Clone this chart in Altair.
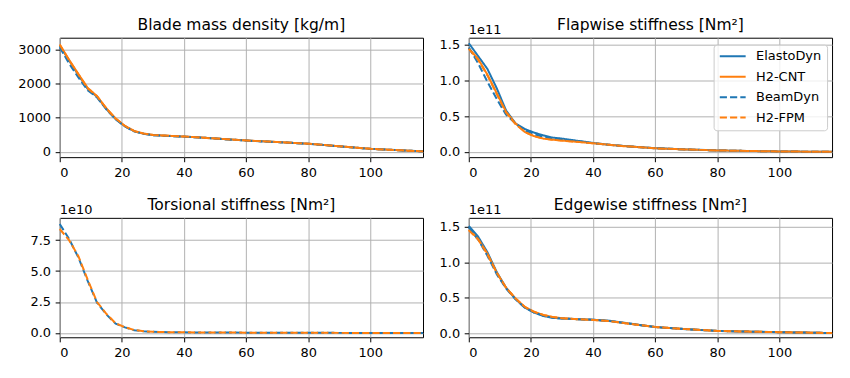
import altair as alt
import pandas as pd

FONT = "DejaVu Sans"
BLUE = "#1f77b4"
ORANGE = "#ff7f0e"
W, H = 365, 120

# spanwise stations [m]
span = [0, 3, 6, 9, 12, 15, 18, 21, 24, 27, 30, 35, 40, 45, 50, 60, 70, 80, 90, 100, 110, 117]
models = ["ElastoDyn", "H2-CNT", "BeamDyn", "H2-FPM"]
solid_models = ["ElastoDyn", "H2-CNT"]

# Blade mass density [kg/m]
mass_elastodyn = [3130, 2690, 2260, 1850, 1620, 1260, 960, 750, 600, 530, 490, 465, 445, 420, 390, 330, 285, 235, 160, 85, 40, 10]
mass_h2cnt = [3160, 2710, 2290, 1880, 1640, 1280, 980, 760, 610, 535, 495, 470, 448, 423, 392, 332, 287, 237, 162, 86, 41, 10]
mass_beamdyn = [3080, 2600, 2190, 1810, 1600, 1250, 955, 745, 598, 528, 488, 462, 442, 418, 388, 328, 283, 233, 158, 84, 39, 10]
mass_h2fpm = [3150, 2700, 2280, 1870, 1635, 1275, 975, 758, 608, 533, 493, 468, 446, 421, 390, 331, 286, 236, 161, 85, 40, 10]

# Flapwise stiffness [1e11 Nm^2]
flap_elastodyn = [1.52, 1.34, 1.16, 0.89, 0.58, 0.40, 0.32, 0.27, 0.23, 0.20, 0.185, 0.155, 0.125, 0.10, 0.082, 0.052, 0.034, 0.02, 0.012, 0.006, 0.002, 0.0]
flap_h2cnt = [1.45, 1.30, 1.08, 0.82, 0.56, 0.40, 0.28, 0.22, 0.185, 0.17, 0.158, 0.14, 0.12, 0.10, 0.08, 0.05, 0.033, 0.02, 0.012, 0.006, 0.002, 0.0]
flap_beamdyn = [1.46, 1.24, 0.98, 0.74, 0.52, 0.40, 0.30, 0.25, 0.21, 0.19, 0.175, 0.15, 0.122, 0.10, 0.081, 0.051, 0.033, 0.02, 0.012, 0.006, 0.002, 0.0]
flap_h2fpm = [1.44, 1.29, 1.07, 0.81, 0.55, 0.39, 0.28, 0.22, 0.185, 0.17, 0.157, 0.14, 0.12, 0.10, 0.08, 0.05, 0.033, 0.02, 0.012, 0.006, 0.002, 0.0]

# Torsional stiffness [1e10 Nm^2]
tors_beamdyn = [8.8, 7.6, 6.1, 4.2, 2.45, 1.5, 0.75, 0.45, 0.22, 0.13, 0.09, 0.065, 0.05, 0.04, 0.035, 0.025, 0.016, 0.01, 0.006, 0.003, 0.001, 0.0]
tors_h2fpm = [8.4, 7.5, 6.2, 4.3, 2.5, 1.55, 0.78, 0.46, 0.24, 0.13, 0.09, 0.065, 0.05, 0.04, 0.035, 0.025, 0.016, 0.01, 0.006, 0.003, 0.001, 0.0]

# Edgewise stiffness [1e11 Nm^2]
edge_elastodyn = [1.51, 1.36, 1.14, 0.86, 0.64, 0.48, 0.36, 0.29, 0.24, 0.215, 0.205, 0.195, 0.188, 0.175, 0.145, 0.085, 0.055, 0.03, 0.02, 0.012, 0.005, 0.0]
edge_h2cnt = [1.46, 1.33, 1.12, 0.85, 0.64, 0.49, 0.37, 0.30, 0.255, 0.225, 0.21, 0.195, 0.185, 0.17, 0.14, 0.085, 0.055, 0.03, 0.02, 0.012, 0.005, 0.0]
edge_beamdyn = [1.49, 1.32, 1.09, 0.83, 0.63, 0.48, 0.36, 0.29, 0.245, 0.215, 0.205, 0.195, 0.187, 0.172, 0.143, 0.084, 0.054, 0.03, 0.02, 0.012, 0.005, 0.0]
edge_h2fpm = [1.45, 1.32, 1.11, 0.85, 0.64, 0.49, 0.37, 0.30, 0.255, 0.225, 0.21, 0.195, 0.185, 0.17, 0.14, 0.085, 0.055, 0.03, 0.02, 0.012, 0.005, 0.0]

x_ticks = [0, 20, 40, 60, 80, 100]


def panel(title, series, scale, dom, ticks, fmt, exp_text, legend=False):
    rows = []
    for m, vals in series.items():
        for xv, yv in zip(span, vals):
            rows.append({"x": xv, "y": yv * scale, "model": m,
                         "style": "solid" if m in solid_models else "dashed"})
    df = pd.DataFrame(rows)

    if legend:
        leg = alt.Legend(title=None, orient="none", legendX=246, legendY=7,
                         symbolType="stroke", symbolSize=676, symbolStrokeWidth=2,
                         clipHeight=13, rowPadding=6.5, padding=5.2, labelOffset=9.4,
                         labelFont=FONT, labelFontSize=13, labelColor="black",
                         strokeColor="#cccccc", fillColor="rgba(255,255,255,0.8)",
                         cornerRadius=3)
    else:
        leg = None

    enc = dict(
        x=alt.X("x:Q", scale=alt.Scale(domain=[0, 117], nice=False, zero=False),
                axis=alt.Axis(values=x_ticks, title=None, format="d")),
        y=alt.Y("y:Q", scale=alt.Scale(domain=dom, nice=False, zero=False),
                axis=alt.Axis(values=ticks, title=None, labelExpr=fmt)),
        color=alt.Color("model:N", scale=alt.Scale(domain=models, range=[BLUE, ORANGE, BLUE, ORANGE]),
                        legend=leg),
        strokeDash=alt.StrokeDash("model:N",
                                  scale=alt.Scale(domain=models,
                                                  range=[[1, 0], [1, 0], [7.2, 3.1], [7.2, 3.1]]),
                                  legend=leg),
    )
    base = alt.Chart(df).encode(**enc)
    solid = base.transform_filter(alt.datum.style == "solid").mark_line(strokeWidth=2)
    dashed = base.transform_filter(alt.datum.style == "dashed").mark_line(strokeWidth=2)

    ttl = alt.Chart(pd.DataFrame({"t": [title]})).mark_text(
        align="center", baseline="alphabetic", font=FONT, fontSize=15.6, color="black"
    ).encode(text="t:N", x=alt.value(W / 2), y=alt.value(-8))
    layers = [solid, dashed, ttl]
    if exp_text:
        ex = alt.Chart(pd.DataFrame({"t": [exp_text]})).mark_text(
            align="left", baseline="alphabetic", font=FONT, fontSize=13, color="black"
        ).encode(text="t:N", x=alt.value(0), y=alt.value(-4))
        layers.append(ex)
    return alt.layer(*layers).properties(width=W, height=H)


p1 = panel("Blade mass density [kg/m]",
           {"ElastoDyn": mass_elastodyn, "H2-CNT": mass_h2cnt, "BeamDyn": mass_beamdyn, "H2-FPM": mass_h2fpm},
           1, [-160, 3360], [0, 1000, 2000, 3000], "format(datum.value, 'd')", None)
p2 = panel("Flapwise stiffness [Nm²]",
           {"ElastoDyn": flap_elastodyn, "H2-CNT": flap_h2cnt, "BeamDyn": flap_beamdyn, "H2-FPM": flap_h2fpm},
           1e11, [-0.074e11, 1.597e11], [0, 0.5e11, 1.0e11, 1.5e11],
           "format(datum.value / 1e11, '.1f')", "1e11", legend=True)
p3 = panel("Torsional stiffness [Nm²]",
           {"BeamDyn": tors_beamdyn, "H2-FPM": tors_h2fpm},
           1e10, [-0.35e10, 9.3e10], [0, 2.5e10, 5.0e10, 7.5e10],
           "format(datum.value / 1e10, '.1f')", "1e10")
p4 = panel("Edgewise stiffness [Nm²]",
           {"ElastoDyn": edge_elastodyn, "H2-CNT": edge_h2cnt, "BeamDyn": edge_beamdyn, "H2-FPM": edge_h2fpm},
           1e11, [-0.06e11, 1.625e11], [0, 0.5e11, 1.0e11, 1.5e11],
           "format(datum.value / 1e11, '.1f')", "1e11")

chart = alt.concat(p1, p2, p3, p4, columns=2, spacing={"row": 61, "column": 46}, bounds="flush").resolve_scale(
    x="independent", y="independent", color="independent", strokeDash="independent"
).resolve_legend(color="independent", strokeDash="independent").properties(
    padding={"left": 9, "top": 8, "right": 5, "bottom": 5}
).configure_view(stroke="black", strokeWidth=1).configure_axis(
    domain=False, grid=True, gridColor="#b0b0b0", gridWidth=1,
    tickColor="black", tickSize=4.6, tickWidth=1,
    labelFont=FONT, labelFontSize=13, labelColor="black", labelPadding=4.6,
)

chart.save("out.html", embed_options={"renderer": "svg", "actions": False})
